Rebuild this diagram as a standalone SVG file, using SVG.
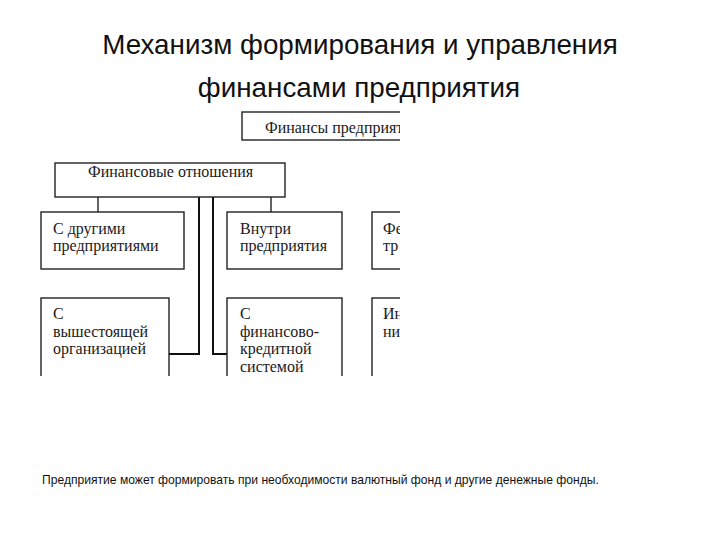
<svg xmlns="http://www.w3.org/2000/svg" width="720" height="540" viewBox="0 0 720 540">
  <defs>
    <clipPath id="crop"><rect x="36" y="108" width="364" height="268"/></clipPath>
    <style>
      .title{font-family:"Liberation Sans",Arial,sans-serif;font-size:27.8px;fill:#111;text-anchor:middle}
      .note{font-family:"Liberation Sans",Arial,sans-serif;font-size:12.1px;fill:#111}
      .box{fill:#fff;stroke:#222;stroke-width:1.4}
      .lbl{font-family:"Liberation Serif","Times New Roman",serif;font-size:16px;fill:#1a1a1a}
      .ln{fill:none;stroke:#222;stroke-width:1.4}
      .thick{fill:none;stroke:#111;stroke-width:2}
    </style>
  </defs>
  <rect width="720" height="540" fill="#fff"/>
  <text class="title" x="360" y="54">Механизм формирования и управления</text>
  <text class="title" x="359" y="97">финансами предприятия</text>

  <g clip-path="url(#crop)">
    <g id="connectors">
      <line class="ln" x1="98" y1="197" x2="98" y2="212"/>
      <line class="ln" x1="271" y1="197" x2="271" y2="212"/>
      <polyline class="thick" points="199,197 199,354 169,354"/>
      <polyline class="thick" points="213,197 213,354 227,354"/>
    </g>
    <g id="n-finances">
      <rect class="box" x="242" y="112" width="180" height="28"/>
      <text class="lbl" x="265" y="133">Финансы предприятия</text>
    </g>
    <g id="n-relations">
      <rect class="box" x="55" y="163" width="230" height="34"/>
      <text class="lbl" x="88" y="177">Финансовые отношения</text>
    </g>
    <g id="n-other">
      <rect class="box" x="41" y="212" width="143" height="57"/>
      <text class="lbl" x="53" y="234">С другими</text>
      <text class="lbl" x="53" y="251">предприятиями</text>
    </g>
    <g id="n-inside">
      <rect class="box" x="227" y="212" width="115" height="57"/>
      <text class="lbl" x="240" y="234">Внутри</text>
      <text class="lbl" x="240" y="251">предприятия</text>
    </g>
    <g id="n-col3a">
      <rect class="box" x="372" y="212" width="60" height="57"/>
      <text class="lbl" x="383" y="234">Фе</text>
      <text class="lbl" x="383" y="251">тр</text>
    </g>
    <g id="n-higher">
      <rect class="box" x="41" y="298" width="128" height="100"/>
      <text class="lbl" x="53" y="319">С</text>
      <text class="lbl" x="53" y="337">вышестоящей</text>
      <text class="lbl" x="53" y="354">организацией</text>
    </g>
    <g id="n-credit">
      <rect class="box" x="227" y="298" width="115" height="100"/>
      <text class="lbl" x="240" y="319">С</text>
      <text class="lbl" x="240" y="337">финансово-</text>
      <text class="lbl" x="240" y="354">кредитной</text>
      <text class="lbl" x="240" y="372">системой</text>
    </g>
    <g id="n-col3b">
      <rect class="box" x="372" y="298" width="60" height="100"/>
      <text class="lbl" x="383" y="319">Ин</text>
      <text class="lbl" x="383" y="337">ни</text>
    </g>
  </g>

  <text class="note" x="42" y="484">Предприятие может формировать при необходимости валютный фонд и другие денежные фонды.</text>
</svg>
